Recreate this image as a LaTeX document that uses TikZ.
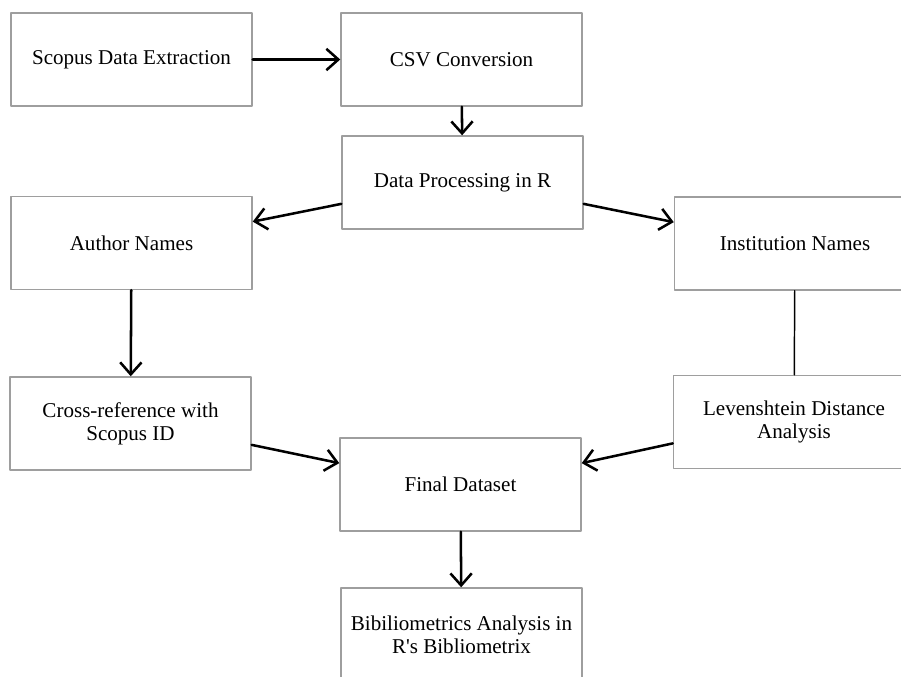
\documentclass[tikz,border=0pt]{standalone}
\usepackage{fontspec}
\setmainfont{Liberation Serif}
\usetikzlibrary{arrows.meta}
\begin{document}
\begin{tikzpicture}[x=0.75pt, y=-0.75pt, line cap=round, line join=round, >={Straight Barb[length=9pt,width=16pt]},
	box/.style={draw=black!38, line width=1.1pt, minimum width=180.75pt, minimum height=69.75pt, align=center, inner sep=0pt, font=\fontsize{15.8}{17}\selectfont},
	flow/.style={->, line width=1.9pt}]
		\useasboundingbox (0,0) rectangle (901,676);
		\clip (0,0) rectangle (901,676);
		% boxes
		\node[box] (scopus) at (131.5,59.5) {Scopus Data Extraction};
		\node[box] (csv) at (461.5,59.5) {CSV Conversion};
		\node[box] (proc) at (462.5,182.5) {Data Processing in R};
		\node[box] (author) at (131.5,243) {Author Names};
		\node[box] (inst) at (795,243.5) {Institution Names};
		\node[box] (xref) at (130.5,423.5) {Cross-reference with\\Scopus ID};
		\node[box] (leven) at (794,422) {Levenshtein Distance\\Analysis};
		\node[box] (final) at (460.5,484.5) {Final Dataset};
		\node[box] (biblio) at (461.5,634.5) {Bibiliometrics Analysis in\\R\textquotesingle s Bibliometrix};
		% connectors
		\draw[flow] (scopus) -- (csv);
		\draw[flow] (csv) -- (proc);
		\draw[flow] (proc.190) -- (author.10);
		\draw[flow] (proc.350) -- (inst.170);
		\draw[flow] (author) -- (xref);
		\draw[line width=1.1pt] (inst) -- (leven);
		\draw[flow] (xref.350) -- (final.170);
		\draw[flow] (leven.190) -- (final.10);
		\draw[flow] (final) -- (biblio);
\end{tikzpicture}
\end{document}
